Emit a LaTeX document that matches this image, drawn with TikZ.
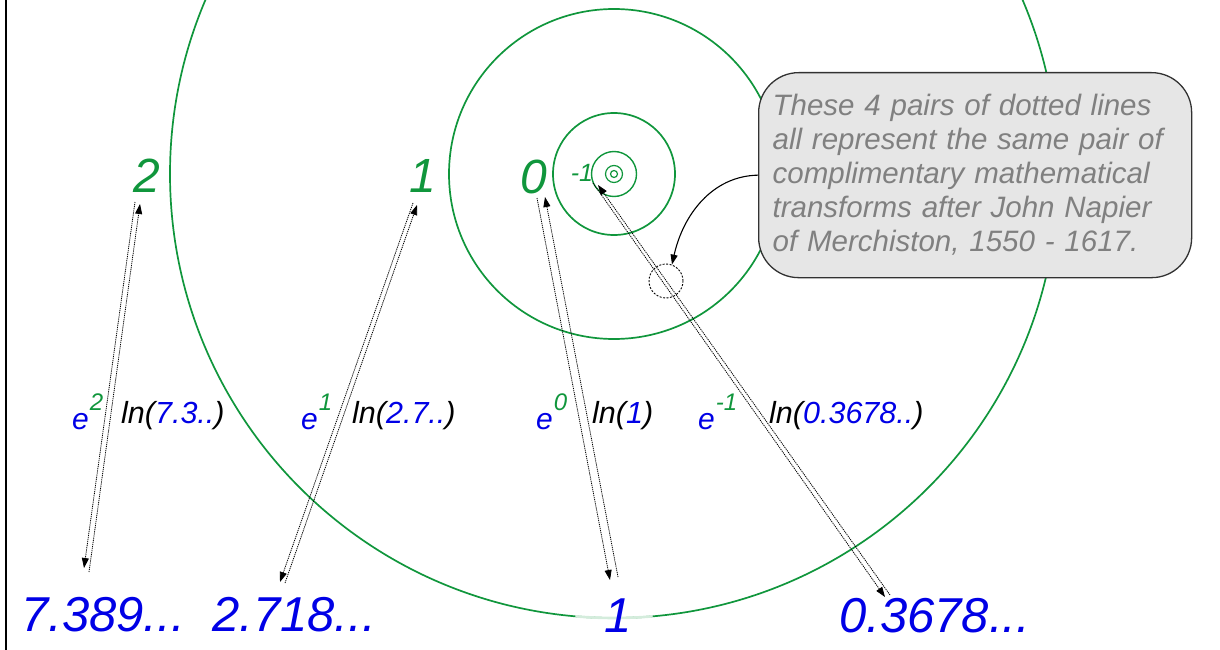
\documentclass[tikz,border=0pt]{standalone}
\usepackage{fontspec}
\setmainfont{Liberation Sans}
\usetikzlibrary{arrows.meta,calc}
\definecolor{cgreen}{RGB}{16,150,60}
\definecolor{cblue}{RGB}{0,0,230}
\definecolor{notefill}{RGB}{230,230,230}
\definecolor{notetext}{RGB}{128,128,128}
\definecolor{noteline}{RGB}{50,50,50}
\newcommand\myexp[1]{\textcolor{cblue}{e}\kern1pt\raisebox{19pt}{\fontsize{24}{24}\selectfont\textcolor{cgreen}{#1}}}
\begin{document}
\begin{tikzpicture}[x=1pt,y=-1pt,
  ringline/.style={draw=cgreen, line width=1.7pt},
  toplab/.style={text=cgreen, font=\fontsize{48}{48}\selectfont\itshape, anchor=base, inner sep=0pt},
  smalllab/.style={text=cgreen, font=\fontsize{25}{25}\selectfont\itshape, anchor=base, inner sep=0pt},
  botlab/.style={text=cblue, font=\fontsize{49}{49}\selectfont\itshape, inner sep=0pt},
  elab/.style={font=\fontsize{30}{30}\selectfont\itshape, anchor=base west, inner sep=0pt},
  lnlab/.style={font=\fontsize{30.5}{30.5}\selectfont\itshape, anchor=base west, inner sep=0pt},
  pairline/.style={draw=black, line width=0.8pt, dash pattern=on 1.2pt off 0.9pt, -{Triangle[length=10pt,width=7pt]}},
  notebox/.style={draw=noteline, line width=1.3pt, fill=notefill, rounded corners=40pt,
     text=notetext, font=\fontsize{29.5}{34}\selectfont\itshape, align=left,
     text width=405pt, inner xsep=14pt, minimum height=205pt, anchor=north west},
  dotring/.style={circle, draw=black, line width=0.9pt, dash pattern=on 2pt off 1.5pt, minimum size=34pt, inner sep=0pt},
  callarrow/.style={draw=black, line width=1.1pt, -{Triangle[length=10pt,width=7pt]}}
]
\useasboundingbox (0,0) rectangle (1220,650);
\clip (0,0) rectangle (1220,650);
\draw[line width=1.5pt] (6,0) -- (6,650);
% circles
\coordinate (C) at (614,174);
\draw[ringline] (C) circle[radius=444];
\draw[ringline] (C) circle[radius=165];
\draw[ringline] (C) circle[radius=61];
\draw[ringline, line width=1.4pt] (C) circle[radius=22.5];
\draw[ringline, line width=1.2pt] (C) circle[radius=8.5];
\draw[ringline, line width=1.2pt] (C) circle[radius=3.5];
\draw[draw=cgreen!18, line width=2.6pt] ($(C)+(85:444)$) arc[start angle=85, end angle=95, radius=444];
% pair end points
\coordinate (A2s) at (135,202); \coordinate (A2e) at (84,568);
\coordinate (B2s) at (89,572);  \coordinate (B2e) at (140,204);
\coordinate (A1s) at (413,203); \coordinate (A1e) at (280,582);
\coordinate (B1s) at (285,583); \coordinate (B1e) at (417,205);
\coordinate (A0s) at (537,198); \coordinate (A0e) at (610,580);
\coordinate (B0s) at (618,577); \coordinate (B0e) at (545,197);
\coordinate (Ams) at (593,183); \coordinate (Ame) at (885,597);
\coordinate (Bms) at (890,595); \coordinate (Bme) at (598,185);
\draw[pairline] (A2s) -- (A2e);
\draw[pairline] (B2s) -- (B2e);
\draw[pairline] (A1s) -- (A1e);
\draw[pairline] (B1s) -- (B1e);
\draw[pairline] (A0s) -- (A0e);
\draw[pairline] (B0s) -- (B0e);
\draw[pairline] (Ams) -- (Ame);
\draw[pairline] (Bms) -- (Bme);
% top labels
\node[toplab] (t2) at (147,192) {2};
\node[toplab] (t1) at (423,192) {1};
\node[toplab] (t0) at (534,193) {0};
\node[smalllab] (tm) at (582,181) {-1};
% bottom labels
\node[botlab, anchor=base west] (b2) at (21,631) {7.389...};
\node[botlab, anchor=base west] (b1) at (212,631) {2.718...};
\node[botlab, anchor=base] (b0) at (618,632) {1};
\node[botlab, anchor=base west] (bm) at (839,632) {0.3678...};
% exponent labels
\node[elab] (e2) at (72,429) {\myexp{2}};
\node[elab] (e1) at (301,429) {\myexp{1}};
\node[elab] (e0) at (536,429) {\myexp{0}};
\node[elab] (em) at (698,429) {\myexp{-1}};
% ln labels
\node[lnlab] (l2) at (121,423) {ln(\textcolor{cblue}{7.3..})};
\node[lnlab] (l1) at (352,423) {ln(\textcolor{cblue}{2.7..})};
\node[lnlab] (l0) at (592,423) {ln(\textcolor{cblue}{1})};
\node[lnlab] (lm) at (769,423) {ln(\textcolor{cblue}{0.3678..})};
% callout
\node[notebox] (note) at (758,72) {These 4 pairs of dotted lines\\all represent the same pair of\\complimentary mathematical\\transforms after John Napier\\of Merchiston, 1550 - 1617.};
\node[dotring] (ring) at (666,281) {};
\draw[callarrow] (note.west) .. controls (712,176) and (683,215) .. (ring.70);
\end{tikzpicture}
\end{document}
